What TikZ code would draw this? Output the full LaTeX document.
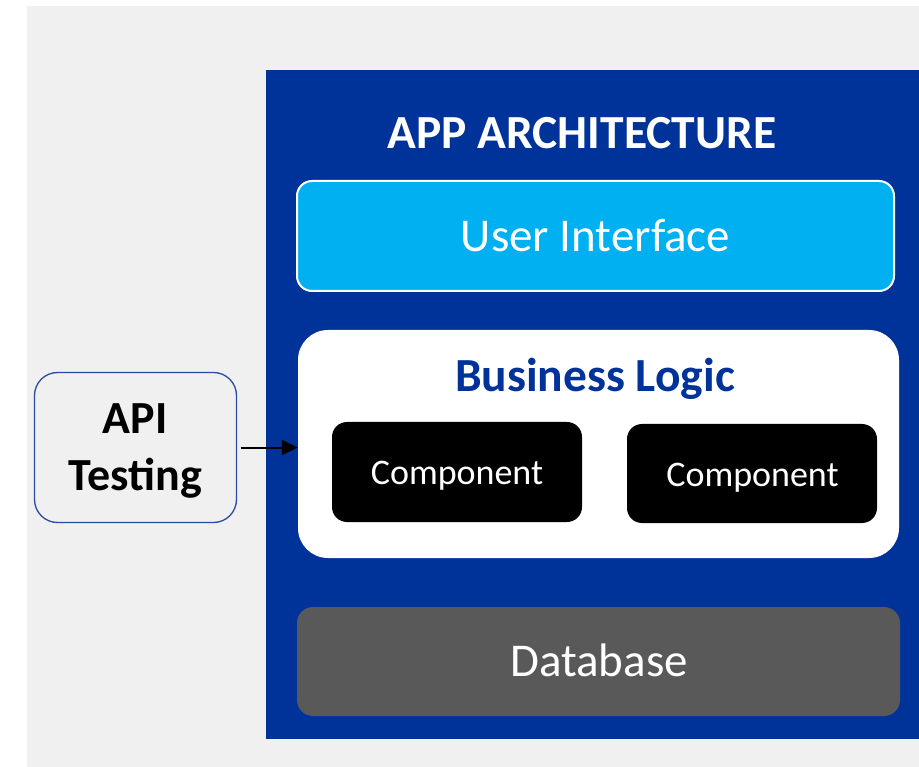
\documentclass[tikz,border=0pt]{standalone}
\usepackage{fontspec}
\setmainfont{Carlito}
\usetikzlibrary{arrows.meta}

\definecolor{pageGray}{RGB}{240,240,240}
\definecolor{archBlue}{RGB}{0,51,153}
\definecolor{uiCyan}{RGB}{0,176,240}
\definecolor{dbGray}{RGB}{89,89,89}
\definecolor{apiEdge}{RGB}{40,75,160}

\tikzset{
  layer/.style={rectangle, inner sep=0pt, draw=none},
  uibox/.style={layer, fill=uiCyan, draw=white, line width=2pt, rounded corners=15pt},
  bizbox/.style={layer, fill=white, rounded corners=30pt},
  compbox/.style={layer, fill=black, rounded corners=15pt},
  dbbox/.style={layer, fill=dbGray, rounded corners=16pt},
  apibox/.style={layer, fill=pageGray, draw=apiEdge, line width=1.3pt, rounded corners=23pt},
  txt/.style={inner sep=0pt, anchor=base},
  bigtext/.style={txt, font=\fontsize{47}{56}\selectfont},
  smalltext/.style={txt, font=\fontsize{36}{43}\selectfont, text=white},
  link/.style={line width=2pt, -{Triangle[length=16pt,width=15pt]}},
}

\begin{document}
\begin{tikzpicture}[x=1pt, y=-1pt]
  \useasboundingbox (0,0) rectangle (919,767);
  % page background
  \fill[pageGray] (27,6) rectangle (919,767);
  % architecture panel
  \fill[archBlue] (266,70) rectangle (919,739);

  \node[bigtext, text=white, font=\fontsize{47.5}{57}\selectfont\bfseries] (title) at (582,148.3) {APP ARCHITECTURE};

  % user interface layer
  \node[uibox, minimum width=597pt, minimum height=110pt] (ui) at (595.5,236) {};
  \node[bigtext, text=white] (uit) at (595.5,251.7) {User Interface};

  % business logic layer
  \node[bizbox, minimum width=601pt, minimum height=228pt] (biz) at (598.5,444) {};
  \node[bigtext, text=archBlue, font=\fontsize{47.5}{57}\selectfont\bfseries] (bizt) at (595,391.7) {Business Logic};
  \node[compbox, minimum width=250pt, minimum height=100pt] (c1) at (457,472) {};
  \node[smalltext] (c1t) at (457,484) {Component};
  \node[compbox, minimum width=250pt, minimum height=99pt] (c2) at (752,473.5) {};
  \node[smalltext] (c2t) at (752.5,486) {Component};

  % database layer
  \node[dbbox, minimum width=603pt, minimum height=109pt] (db) at (598.5,661.5) {};
  \node[bigtext, text=white] (dbt) at (599,676) {Database};

  % API testing entry point
  \node[apibox, minimum width=202pt, minimum height=150pt] (api) at (135.5,447.5) {};
  \node[txt, font=\fontsize{46}{56}\selectfont\bfseries] (apit1) at (135,434) {API};
  \node[txt, font=\fontsize{46}{56}\selectfont\bfseries] (apit2) at (135.5,490) {Testing};

  \draw[link, shorten <=3.5pt] (api.east) -- (api.east -| biz.west);
\end{tikzpicture}
\end{document}
